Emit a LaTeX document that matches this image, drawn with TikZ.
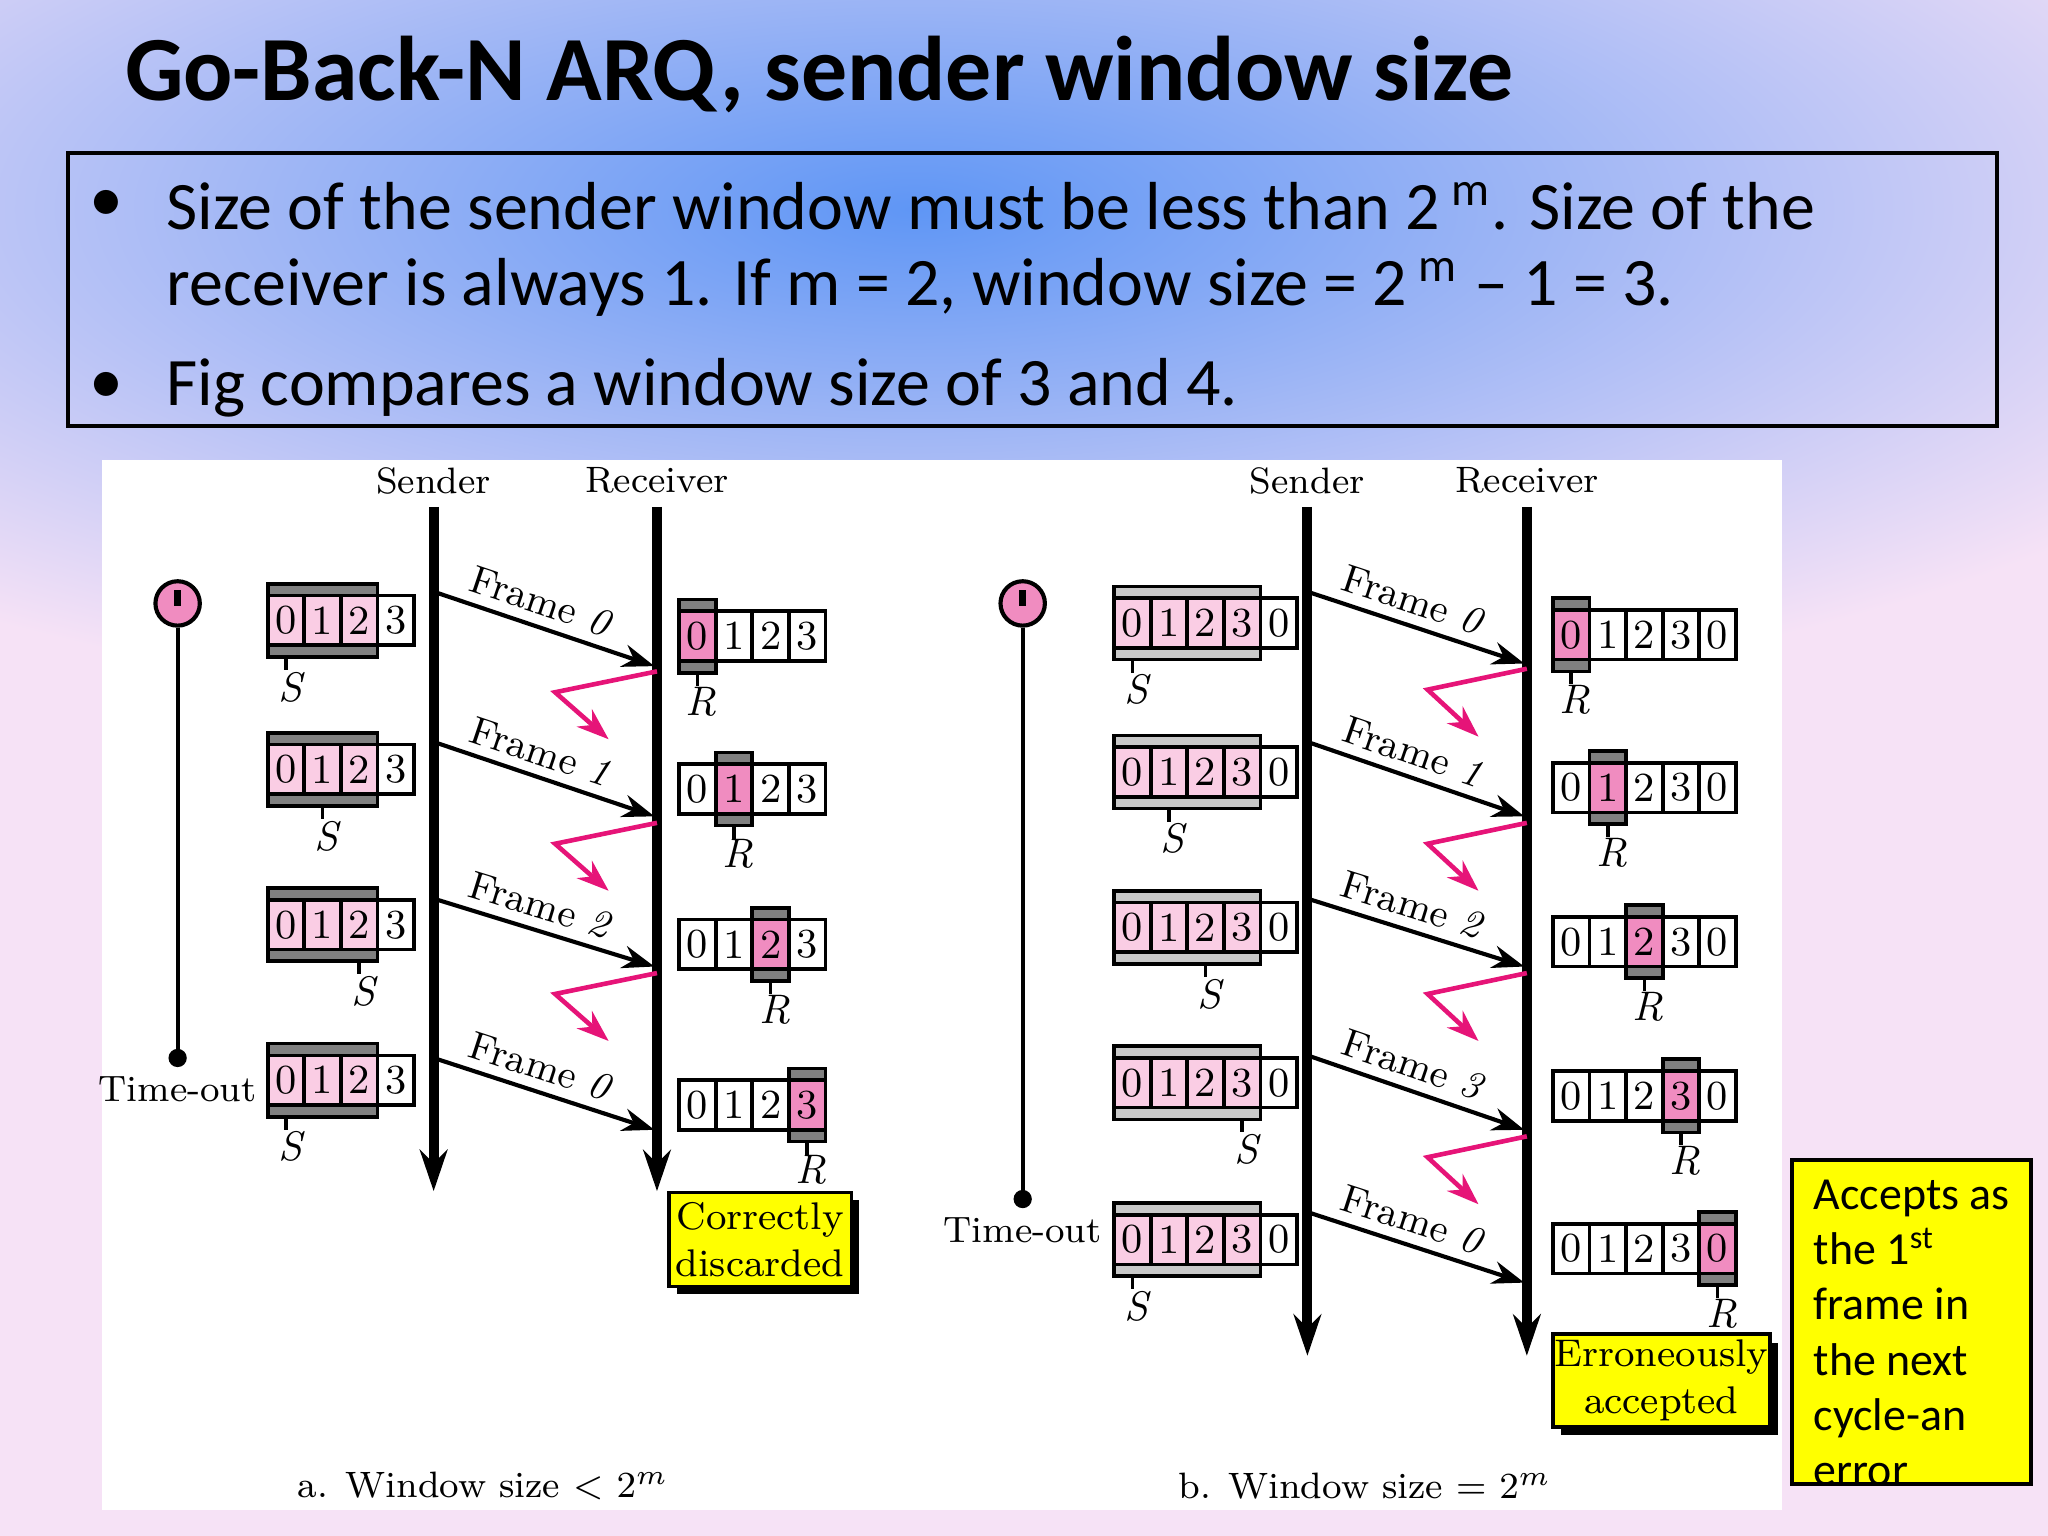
\documentclass[tikz,border=0pt]{standalone}
\usepackage{fontspec}
\newfontfamily\calib{Carlito}
\usetikzlibrary{arrows.meta}
\definecolor{bgpink}{RGB}{246,226,246}
\definecolor{bgblue}{RGB}{95,150,245}
\definecolor{lpink}{RGB}{250,205,228}
\definecolor{dpink}{RGB}{240,140,192}
\definecolor{dgray}{RGB}{128,128,128}
\definecolor{lgray}{RGB}{200,200,200}
\definecolor{ackc}{RGB}{230,20,120}
\definecolor{yel}{RGB}{255,255,0}
\newcommand{\cellA}[4]{% x, yc, fill, text
  \node[cell,fill=#3] at (#1+14,#2) {#4};}
\tikzset{
  cell/.style={draw=black,line width=0.8pt,minimum width=28*0.1mm,minimum height=38*0.1mm,inner sep=0pt,font=\fontsize{9}{10}\selectfont},
  lbl/.style={font=\fontsize{8}{10}\selectfont,inner sep=0pt},
  ital/.style={font=\fontsize{9}{10}\selectfont\itshape,inner sep=0pt},
  tline/.style={line width=2.2pt,-{Stealth[length=9pt,width=6pt]}},
  frame/.style={line width=0.9pt,-{Stealth[length=7pt,width=5pt]}},
  ack/.style={draw=ackc,line width=1pt,-{Stealth[length=7pt,width=5pt]}},
  flab/.style={font=\fontsize{8.6}{10}\selectfont,sloped,above,inner sep=2pt,pos=0.45},
  ybox/.style={fill=yel,draw=black,line width=0.8pt,align=center,inner sep=0pt},
}
\begin{document}
\begin{tikzpicture}[x=0.1mm,y=-0.1mm]
\useasboundingbox (0,0) rectangle (1568,1176);
\fill[bgpink] (0,0) rectangle (1568,1176);
\shade[inner color=bgblue,outer color=bgpink] (700,160) ellipse [x radius=1150,y radius=400];
% title
\node[anchor=west,inner sep=0pt,font=\calib\bfseries\fontsize{20}{24}\selectfont] (title) at (95,57) {Go-Back-N ARQ, sender window size};
\draw[line width=0.9pt] (52,117) rectangle (1529,326);
\begin{scope}[every node/.style={anchor=west,inner sep=0pt,font=\calib\fontsize{14.8}{17}\selectfont}]
\node (b1) at (68,158) {\textbullet};
\node (t1) at (127,158) {Size of the sender window must be less than 2\,\textsuperscript{m}. Size of the};
\node (t2) at (127,220) {receiver is always 1. If m = 2, window size = 2\,\textsuperscript{m} \textendash{} 1 = 3.};
\node (b2) at (68,297) {\textbullet};
\node (t3) at (127,297) {Fig compares a window size of 3 and 4.};
\end{scope}
% panel
\fill[white] (78,352) rectangle (1364,1156);
% ---------- left diagram ----------
\node[lbl] (snd1) at (332,368) {Sender};
\node[lbl] (rcv1) at (503,368) {Receiver};
\coordinate (s1t) at (332,388); \coordinate (s1b) at (332,912);
\coordinate (r1t) at (503,388); \coordinate (r1b) at (503,912);
\draw[tline] (s1t) -- (s1b);
\draw[tline] (r1t) -- (r1b);
\coordinate (tm1b) at (136,810);
\node[circle,draw=black,fill=dpink,line width=0.9pt,minimum size=34*0.1mm,inner sep=0pt] (tm1) at (136,462) {};
\draw[line width=1.4pt] (136,452) -- (136,464);
\draw[line width=0.9pt] (tm1) -- (tm1b);
\fill (tm1b) circle (7);
\node[lbl] (to1) at (136,834) {Time-out};
\foreach \yc/\s [count=\k] in {475/0,589/1,708/2,827/0}{
  \fill[dgray,draw=black,line width=0.8pt] (205,\yc-28) rectangle (289,\yc+28);
  \foreach \i in {0,1,2} { \cellA{205+28*\i}{\yc}{lpink}{\i} }
  \cellA{289}{\yc}{white}{3}
  \draw[line width=0.8pt] (219+28*\s,\yc+28) -- (219+28*\s,\yc+38);
  \node[ital] (sl\k) at (222+28*\s,\yc+51) {S};
}
\foreach \a/\b/\t [count=\k] in {453/510/0,568/625/1,688/740/2,810/865/0}{
  \coordinate (fa\k) at (332,\a); \coordinate (fb\k) at (501,\b);
  \draw[frame] (fa\k) -- node[flab] {Frame \textit{\t}} (fb\k);
}
\foreach \a [count=\k] in {514,630,745}{
  \coordinate (aa\k) at (503,\a); \coordinate (am\k) at (425,\a+16); \coordinate (ab\k) at (466,\a+52);
  \draw[ack] (aa\k) -- (am\k) -- (ab\k);
}
\foreach \yc/\h [count=\k] in {487/0,604/1,723/2,846/3}{
  \fill[dgray,draw=black,line width=0.8pt] (520+28*\h,\yc-28) rectangle (548+28*\h,\yc+28);
  \foreach \i in {0,1,2,3} {
    \ifnum\i=\h\relax\def\fc{dpink}\else\def\fc{white}\fi
    \cellA{520+28*\i}{\yc}{\fc}{\i} }
  \draw[line width=0.8pt] (534+28*\h,\yc+28) -- (534+28*\h,\yc+38);
  \node[ital] (rl\k) at (537+28*\h,\yc+50) {R};
}
\fill (518,919) rectangle (658,991);
\node[ybox,minimum width=140*0.1mm,minimum height=72*0.1mm,font=\fontsize{8.4}{10.3}\selectfont] (cd) at (582,949) {Correctly\\discarded};
\node[lbl] (cap1) at (370,1138) {a. Window size \textless\ $2^m$};
% ---------- right diagram ----------
\node[lbl] (snd2) at (1001,368) {Sender};
\node[lbl] (rcv2) at (1169,368) {Receiver};
\coordinate (s2t) at (1001,388); \coordinate (s2b) at (1001,1038);
\coordinate (r2t) at (1169,388); \coordinate (r2b) at (1169,1038);
\draw[tline] (s2t) -- (s2b);
\draw[tline] (r2t) -- (r2b);
\coordinate (tm2b) at (783,918);
\node[circle,draw=black,fill=dpink,line width=0.9pt,minimum size=34*0.1mm,inner sep=0pt] (tm2) at (783,462) {};
\draw[line width=1.4pt] (783,452) -- (783,464);
\draw[line width=0.9pt] (tm2) -- (tm2b);
\fill (tm2b) circle (7);
\node[lbl] (to2) at (783,942) {Time-out};
\foreach \yc/\s [count=\k] in {477/0,591/1,710/2,829/3,949/0}{
  \fill[lgray,draw=black,line width=0.8pt] (853,\yc-28) rectangle (965,\yc+28);
  \foreach \i in {0,1,2,3} { \cellA{853+28*\i}{\yc}{lpink}{\i} }
  \cellA{965}{\yc}{white}{0}
  \draw[line width=0.8pt] (867+28*\s,\yc+28) -- (867+28*\s,\yc+38);
  \node[ital] (sr\k) at (870+28*\s,\yc+51) {S};
}
\foreach \a/\b/\t [count=\k] in {453/508/0,568/625/1,688/740/2,808/865/3,928/982/0}{
  \coordinate (ga\k) at (1001,\a); \coordinate (gb\k) at (1167,\b);
  \draw[frame] (ga\k) -- node[flab] {Frame \textit{\t}} (gb\k);
}
\foreach \a [count=\k] in {512,630,745,870}{
  \coordinate (ba\k) at (1169,\a); \coordinate (bm\k) at (1093,\a+16); \coordinate (bb\k) at (1132,\a+52);
  \draw[ack] (ba\k) -- (bm\k) -- (bb\k);
}
\foreach \yc/\h [count=\k] in {486/0,603/1,721/2,839/3,956/4}{
  \fill[dgray,draw=black,line width=0.8pt] (1189+28*\h,\yc-28) rectangle (1217+28*\h,\yc+28);
  \foreach \i/\w in {0/0,1/1,2/2,3/3,4/0} {
    \ifnum\i=\h\relax\def\fc{dpink}\else\def\fc{white}\fi
    \cellA{1189+28*\i}{\yc}{\fc}{\w} }
  \draw[line width=0.8pt] (1203+28*\h,\yc+28) -- (1203+28*\h,\yc+38);
  \node[ital] (rr\k) at (1206+28*\h,\yc+50) {R};
}
\fill (1195,1028) rectangle (1361,1099);
\node[ybox,minimum width=166*0.1mm,minimum height=71*0.1mm,font=\fontsize{8.4}{10.3}\selectfont] (ea) at (1272,1057) {Erroneously\\accepted};
\node[lbl] (cap2) at (1045,1138) {b. Window size = $2^m$};
\node[fill=yel,draw=black,line width=0.8pt,minimum width=183*0.1mm,minimum height=248*0.1mm,inner sep=0pt] (nb) at (1463.5,1012) {};
\node[anchor=north west,align=left,inner sep=0pt,font=\calib\fontsize{10}{12}\selectfont] (nt) at (1388,903) {Accepts as\\the 1\textsuperscript{st}\\frame in\\the next\\cycle-an\\error};
\end{tikzpicture}
\end{document}
